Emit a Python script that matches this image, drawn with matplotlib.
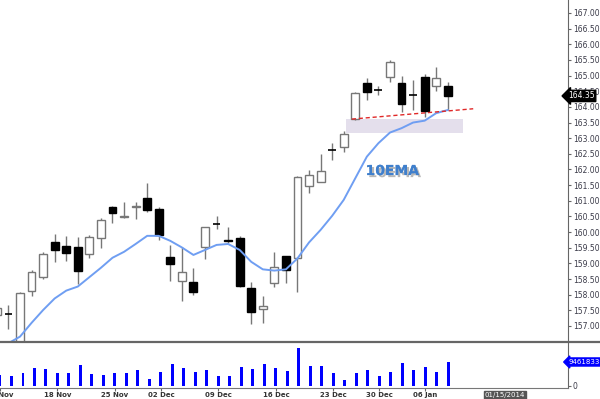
import numpy as np
import matplotlib
matplotlib.use('Agg')
import matplotlib.pyplot as plt
import matplotlib.patheffects as pe
from matplotlib.lines import Line2D
from matplotlib.patches import Rectangle

# 每日 OHLC（11 Nov 2013 - 08 Jan 2014）
opens = [157.35, 157.38, 156.45, 158.13, 158.56, 159.69, 159.56, 159.52, 159.29, 159.82,
         160.79, 160.47, 160.79, 161.08, 160.74, 159.19, 158.45, 158.42, 159.51, 160.28,
         159.75, 159.82, 158.20, 157.53, 158.36, 159.25, 159.16, 161.47, 161.59, 162.62,
         162.71, 163.61, 164.75, 164.56, 164.95, 164.75, 164.38, 164.97, 164.67, 164.68]
highs = [157.65, 157.67, 158.10, 158.79, 159.35, 159.94, 159.89, 159.85, 159.91, 160.46,
         160.84, 160.95, 160.95, 161.56, 160.81, 159.59, 159.53, 158.86, 160.17, 160.51,
         160.15, 159.88, 158.40, 157.96, 159.37, 159.25, 161.79, 161.98, 162.50, 162.84,
         163.23, 164.47, 164.91, 164.67, 165.50, 165.00, 164.86, 165.04, 165.29, 164.81]
lows = [157.25, 156.90, 156.30, 157.96, 158.49, 159.05, 159.09, 158.34, 159.16, 159.48,
        160.30, 160.46, 160.41, 160.65, 159.75, 158.45, 157.81, 157.99, 159.13, 160.09,
        159.66, 158.24, 157.06, 157.09, 158.24, 158.38, 158.10, 161.26, 161.59, 162.30,
        162.57, 163.58, 164.22, 164.38, 164.81, 163.85, 163.90, 163.67, 164.52, 163.90]
closes = [157.58, 157.36, 158.05, 158.72, 159.29, 159.43, 159.32, 158.77, 159.83, 160.39,
          160.60, 160.52, 160.84, 160.71, 159.91, 158.98, 158.74, 158.10, 160.15, 160.24,
          159.70, 158.29, 157.46, 157.64, 158.88, 158.79, 161.75, 161.82, 161.96, 162.63,
          163.13, 164.43, 164.47, 164.55, 165.44, 164.09, 164.39, 163.88, 164.93, 164.35]
# 成交量（百萬）
volume = [4.5, 3.94, 5.0, 6.98, 6.58, 5.24, 5.0, 8.28, 4.61, 4.34,
          5.24, 5.24, 6.19, 2.76, 5.52, 8.55, 7.1, 5.64, 6.19, 3.94,
          3.94, 7.61, 6.82, 8.67, 6.98, 5.79, 15.1, 8.0, 8.0, 5.0,
          2.37, 5.0, 6.31, 3.94, 5.52, 9.18, 6.19, 7.37, 5.4, 9.461833]
# 10 日 EMA
ema10 = [156.2, 156.45, 156.66, 157.1, 157.51, 157.88, 158.13, 158.26, 158.56, 158.86,
         159.18, 159.37, 159.62, 159.88, 159.88, 159.72, 159.51, 159.27, 159.43, 159.59,
         159.62, 159.43, 159.05, 158.81, 158.77, 158.81, 159.16, 159.67, 160.07, 160.52,
         161.03, 161.72, 162.41, 162.84, 163.18, 163.32, 163.5, 163.56, 163.8, 163.9]
date_ticks = [0, 5, 10, 14, 19, 24, 29, 33, 37]
date_labels = ['11 Nov', '18 Nov', '25 Nov', '02 Dec', '09 Dec', '16 Dec', '23 Dec', '30 Dec', '06 Jan']

x = np.arange(len(closes))
xlim = (0.27, 49.4)

fig = plt.figure(figsize=(6, 3.99), dpi=100)
ax = fig.add_axes([0, 0.1429, 0.9467, 0.8571])
axv = fig.add_axes([0, 0.0276, 0.9467, 0.1153])

# 蠟燭圖
w = 0.68
for i in x:
    o, h, l, c = opens[i], highs[i], lows[i], closes[i]
    ax.vlines(i, l, h, color='#777777', lw=1, zorder=2)
    lo, hi = min(o, c), max(o, c)
    if hi - lo < 0.04:
        ax.hlines((o + c) / 2, i - w / 2, i + w / 2, color='black', lw=1.2, zorder=3)
    elif c >= o:
        ax.add_patch(Rectangle((i - w / 2, lo), w, hi - lo, facecolor='white',
                               edgecolor='#777777', lw=1, zorder=3))
    else:
        ax.add_patch(Rectangle((i - w / 2, lo), w, hi - lo, facecolor='black',
                               edgecolor='black', lw=1, zorder=3))

ax.plot(x, ema10, color='#6f9ef2', lw=1.4, zorder=4)

# 支撐區與趨勢線
ax.add_patch(Rectangle((30.2, 163.18), 10.1, 0.43, facecolor='#e4dfec', edgecolor='none', zorder=1))
ax.plot([30.7, 41.2], [163.61, 163.94], color='#e02828', lw=1, ls=(0, (3, 2)), zorder=5)

ax.text(34.2, 161.95, '10EMA', color='#3f7fcc', fontsize=10, fontweight='bold',
        ha='center', va='center', zorder=6,
        path_effects=[pe.withSimplePatchShadow(offset=(1.5, -1.5), shadow_rgbFace='#888888', alpha=0.6),
                      pe.Normal()])

ax.set_xlim(xlim)
ax.set_ylim(156.489, 167.415)
ax.set_yticks(np.arange(157, 167.01, 0.5))
ax.yaxis.tick_right()
ax.tick_params(axis='y', labelsize=5.5, labelcolor='#3a3a48', color='#666666', length=2, pad=1.5)
ax.yaxis.set_major_formatter(matplotlib.ticker.FormatStrFormatter('%.2f'))
ax.set_xticks([])
for s in ['left', 'top', 'bottom']:
    ax.spines[s].set_visible(False)
ax.spines['right'].set_color('#666666')

ax.text(1.0, closes[-1], '%.2f' % closes[-1], transform=ax.get_yaxis_transform(),
        color='white', fontsize=5.5, va='center', ha='left',
        bbox=dict(boxstyle='larrow,pad=0.15', fc='black', ec='black'), zorder=10, clip_on=False)

# 成交量
axv.bar(x, volume, width=0.26, color='#0000ff')
axv.set_xlim(xlim)
axv.set_ylim(-0.79, 17.35)
axv.set_yticks([0])
axv.yaxis.tick_right()
axv.tick_params(axis='y', labelsize=5.5, labelcolor='#3a3a48', color='#666666', length=2, pad=1.5)
axv.set_xticks(date_ticks)
axv.set_xticklabels(date_labels)
axv.tick_params(axis='x', labelsize=5, labelcolor='#333333', color='#666666', length=2, pad=1)
for lab in axv.get_xticklabels():
    lab.set_fontweight('bold')
for s in ['left', 'top']:
    axv.spines[s].set_visible(False)
axv.spines['right'].set_color('#666666')
axv.spines['bottom'].set_color('#777777')
axv.text(1.0, volume[-1], '%d' % round(volume[-1] * 1e6), transform=axv.get_yaxis_transform(),
         color='white', fontsize=5, va='center', ha='left',
         bbox=dict(boxstyle='larrow,pad=0.15', fc='#0000ff', ec='#0000ff'), clip_on=False)

# 面板分隔線與游標日期
fig.add_artist(Line2D([0, 1], [0.1429, 0.1429], color='#666666', lw=1.6))
fig.text(505 / 600, 1 - 395 / 399, '01/15/2014', color='white', fontsize=5, ha='center', va='center',
         bbox=dict(boxstyle='square,pad=0.15', fc='#555555', ec='#555555'))

fig.savefig('out.png', dpi=100)
